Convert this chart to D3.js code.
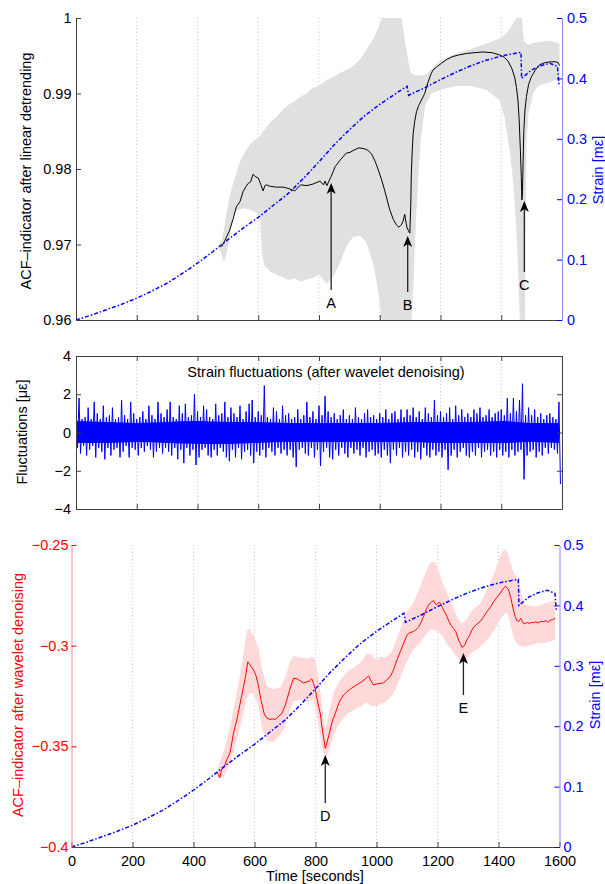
<!DOCTYPE html>
<html>
<head>
<meta charset="utf-8">
<script src="https://cdn.jsdelivr.net/npm/d3@7"></script>
<style>
body { margin: 0; background: #fff; }
text { font-family: "Liberation Sans", Arial, sans-serif; }
</style>
</head>
<body>
<svg id="chart" width="605" height="884"></svg>
<script>
// ---- data ----
var xTicks = [0, 200, 400, 600, 800, 1000, 1200, 1400, 1600];
var acfTicks = [0.96, 0.97, 0.98, 0.99, 1];
var strainTicks = [0, 0.1, 0.2, 0.3, 0.4, 0.5];
var fluctTicks = [-4, -2, 0, 2, 4];
var acf2Ticks = [-0.4, -0.35, -0.3, -0.25];

// strain [me] (blue dash-dot, right axes)
var strainT = [0,50,100,150,200,250,300,350,400,450,500,550,600,650,700,750,800,850,900,950,1000,1050,1090,1095,1120,1150,1200,1250,1300,1350,1400,1440,1465,1467,1500,1530,1560,1585,1590];
var strainV = [0,0.008,0.017,0.026,0.036,0.048,0.061,0.077,0.094,0.113,0.133,0.152,0.170,0.190,0.210,0.235,0.262,0.290,0.315,0.338,0.357,0.374,0.387,0.372,0.378,0.385,0.398,0.410,0.421,0.430,0.437,0.441,0.443,0.400,0.414,0.421,0.425,0.420,0.390];

// ACF after linear detrending (black)
var acfT = [479,490,506,518,528,540,550,560,567,575,583,590,600,608,616,622,627,640,660,682,701,720,740,760,780,803,815,820,826,835,840,853,870,890,902,915,931,948,960,973,985,995,1005,1016,1025,1033,1045,1055,1063,1071,1077,1082,1087,1090,1095,1099,1102,1104,1107,1110,1115,1121,1128,1137,1148,1159,1168,1175,1190,1203,1220,1241,1260,1285,1310,1340,1370,1395,1410,1422,1434,1444,1450,1455,1459,1463,1466,1468,1470,1472,1474,1478,1483,1490,1499,1512,1526,1545,1565,1578,1587,1592];
var acfV = [0.9697,0.9705,0.9719,0.9735,0.9750,0.9757,0.9770,0.9777,0.9781,0.9783,0.9793,0.9790,0.9788,0.9780,0.9771,0.9778,0.9779,0.9777,0.9776,0.9776,0.9774,0.9771,0.9779,0.9778,0.9780,0.9784,0.9779,0.9784,0.9778,0.9786,0.9790,0.9803,0.9812,0.9821,0.9822,0.9825,0.9828,0.9827,0.9825,0.9820,0.9810,0.9799,0.9787,0.9772,0.9758,0.9746,0.9733,0.9726,0.9723,0.9726,0.9731,0.9740,0.9728,0.9722,0.9718,0.9715,0.9750,0.9794,0.9825,0.9847,0.9863,0.9876,0.9884,0.9891,0.9900,0.9915,0.9925,0.9931,0.9936,0.9940,0.9945,0.9949,0.9951,0.9953,0.9954,0.9955,0.9954,0.9951,0.9948,0.9943,0.9934,0.9922,0.9908,0.9891,0.9865,0.9825,0.9790,0.9759,0.9770,0.9810,0.9848,0.9878,0.9896,0.9912,0.9922,0.9931,0.9938,0.9941,0.9942,0.9942,0.9941,0.9937];

// grey confidence band around the black curve
var bandT = [470,479,485,490,497,505,515,525,535,550,565,580,595,605,612,620,640,660,680,700,720,740,760,780,800,825,850,868,890,912,935,956,978,990,1000,1005,1010,1020,1040,1060,1075,1085,1095,1100,1105,1108,1112,1120,1135,1150,1170,1200,1250,1300,1350,1395,1410,1428,1440,1450,1456,1461,1466,1470,1475,1478,1481,1483,1490,1505,1520,1560,1592];
var bandHi = [0.9700,0.9705,0.9715,0.9728,0.9745,0.9762,0.9778,0.9790,0.9805,0.9818,0.9828,0.9836,0.9840,0.9843,0.9848,0.9852,0.9862,0.9869,0.9878,0.9885,0.9890,0.9896,0.9900,0.9908,0.9910,0.9918,0.9923,0.9927,0.9931,0.9936,0.9945,0.9958,0.9972,0.9982,0.9990,0.9998,1.002,1.005,1.006,1.004,0.9990,0.9965,0.9940,0.9930,0.9927,0.9926,0.9925,0.9924,0.9924,0.9925,0.9932,0.9944,0.9953,0.9959,0.9966,0.9973,0.9977,0.9985,0.9993,1.000,1.002,1.003,1.003,0.9985,0.9970,0.9968,0.9967,0.9966,0.9965,0.9967,0.9968,0.9970,0.9966];
var bandLo = [0.9695,0.9688,0.9678,0.9680,0.9690,0.9705,0.9735,0.9744,0.9746,0.9748,0.9747,0.9745,0.9742,0.9738,0.9690,0.9672,0.9664,0.9660,0.9657,0.9653,0.9655,0.9651,0.9654,0.9656,0.9660,0.9648,0.9660,0.9675,0.9697,0.9710,0.9712,0.9703,0.9675,0.9650,0.9625,0.9600,0.958,0.955,0.955,0.955,0.955,0.955,0.955,0.956,0.9600,0.9625,0.9660,0.9740,0.9840,0.9885,0.9900,0.9905,0.9910,0.9910,0.9905,0.9891,0.9870,0.9825,0.9780,0.9717,0.9660,0.9600,0.955,0.955,0.955,0.9600,0.9750,0.9835,0.9875,0.9900,0.9910,0.9915,0.9920];

// strain fluctuations [ue]: upper and lower excursions, every 10 s
var fluctHi = [0.9,1.8,0.7,0.8,1.3,0.7,1.6,1.0,0.7,1.4, 0.8,0.9,1.3,0.7,0.8,1.7,0.9,0.7,1.6,1.0,
  0.7,0.8,1.1,0.7,1.4,0.9,0.7,1.6,1.0,0.8, 1.2,1.6,0.8,0.7,1.4,1.0,1.5,0.8,0.9,2.0,
  1.1,0.8,1.4,1.2,0.8,0.7,1.5,0.9,1.0,1.6, 0.8,1.3,1.0,0.8,1.4,0.7,1.1,1.5,1.7,0.8,
  1.1,0.9,2.45,0.8,0.7,1.3,1.1,0.7,1.4,0.9, 1.0,0.7,0.8,1.2,0.7,0.9,1.6,0.8,1.1,0.7,
  1.4,0.9,1.9,1.1,0.8,1.0,0.7,0.9,1.2,0.7, 0.9,0.7,1.3,0.8,0.7,1.0,1.2,0.8,0.9,0.7,
  1.0,0.8,1.2,0.7,1.0,1.1,0.7,1.2,0.8,1.2, 0.9,1.3,0.8,1.1,0.7,1.3,1.0,0.8,1.7,0.9,
  1.1,0.8,1.0,1.3,0.7,1.4,0.9,1.2,0.8,1.0, 0.8,1.2,1.0,1.3,0.8,0.9,1.2,0.8,1.0,1.1,
  1.2,0.9,1.8,1.0,1.8,1.1,1.7,2.55,0.9,1.3, 0.9,1.2,0.8,1.0,0.7,0.9,1.0,0.8,0.7,1.6];
var fluctLo = [-0.8,-1.1,-0.7,-1.2,-0.9,-0.7,-1.3,-0.8,-1.0,-1.4, -0.8,-1.2,-0.9,-0.8,-1.3,-1.0,-0.7,-1.3,-0.8,-0.9,
  -1.2,-0.8,-1.0,-0.7,-0.9,-1.3,-1.0,-0.8,-1.1,-0.8, -1.0,-1.2,-0.8,-1.4,-0.9,-1.6,-0.8,-1.2,-0.9,-1.7,
  -1.3,-0.9,-0.8,-1.2,-1.3,-0.9,-1.2,-0.8,-1.0,-1.3, -1.5,-0.9,-1.3,-0.8,-1.4,-1.0,-0.9,-1.2,-1.6,-1.0,
  -1.2,-0.9,-1.3,-0.8,-1.0,-1.2,-0.8,-1.1,-0.9,-1.2, -0.9,-1.3,-1.8,-0.9,-0.8,-1.1,-1.2,-0.8,-1.3,-0.9,
  -1.75,-1.0,-0.8,-1.3,-1.4,-0.9,-1.2,-0.8,-1.1,-1.3, -0.8,-1.1,-0.9,-1.2,-0.8,-1.3,-1.0,-0.9,-1.2,-1.1,
  -1.3,-0.9,-1.2,-1.6,-0.9,-1.2,-0.8,-1.3,-1.0,-1.2, -0.9,-1.3,-1.0,-1.4,-0.8,-1.2,-1.3,-0.9,-1.2,-1.0,
  -1.3,-0.9,-1.95,-1.2,-0.9,-1.3,-1.0,-0.8,-1.2,-1.3, -1.0,-1.2,-0.8,-1.3,-1.0,-0.9,-1.2,-1.0,-1.3,-0.9,
  -1.2,-1.0,-1.3,-0.9,-1.2,-1.0,-0.9,-2.45,-1.2,-1.0, -0.9,-1.3,-1.0,-1.2,-0.8,-1.1,-0.8,-0.9,-1.1,-2.7];
var fluctT = d3.range(0, 1600, 10);
// solid core of the fluctuation trace, every 100 s
var coreT = [0,100,200,300,400,500,600,700,800,900,1000,1100,1200,1300,1400,1500,1590];
var coreHi = [0.6,0.55,0.5,0.55,0.6,0.55,0.55,0.5,0.5,0.5,0.5,0.55,0.55,0.55,0.6,0.5,0.5];
var coreLo = [-0.55,-0.55,-0.5,-0.55,-0.6,-0.6,-0.55,-0.5,-0.5,-0.5,-0.5,-0.5,-0.55,-0.55,-0.55,-0.5,-0.55];

// ACF after wavelet denoising (red)
var redT = [478,482,486,493,500,509,520,531,542,553,564,570,578,585,592,597,605,613,620,626,632,641,650,660,668,680,690,700,706,717,728,740,750,760,772,780,788,794,799,805,810,816,821,826,832,838,848,856,865,873,881,892,903,915,925,940,952,963,974,982,990,1001,1012,1023,1034,1045,1056,1067,1078,1089,1100,1110,1121,1130,1138,1146,1154,1163,1170,1176,1182,1187,1192,1198,1204,1209,1216,1224,1231,1238,1245,1252,1260,1269,1275,1280,1285,1290,1296,1305,1313,1320,1328,1340,1350,1362,1373,1384,1395,1406,1414,1418,1422,1428,1433,1440,1444,1450,1455,1460,1466,1470,1473,1478,1483,1488,1495,1502,1508,1515,1522,1530,1538,1548,1556,1563,1570,1578,1586];
var redV = [-0.3630,-0.3640,-0.3655,-0.3612,-0.3605,-0.3568,-0.3530,-0.3435,-0.3369,-0.3286,-0.3204,-0.3160,-0.3080,-0.3095,-0.3110,-0.3121,-0.3150,-0.3200,-0.3262,-0.3300,-0.3340,-0.3360,-0.3366,-0.3364,-0.3366,-0.3350,-0.3336,-0.3300,-0.3270,-0.3210,-0.3162,-0.3165,-0.3175,-0.3185,-0.3180,-0.3175,-0.3165,-0.3190,-0.3215,-0.3265,-0.3300,-0.3340,-0.3402,-0.3450,-0.3510,-0.3480,-0.3419,-0.3370,-0.3336,-0.3300,-0.3270,-0.3245,-0.3229,-0.3215,-0.3204,-0.3190,-0.3179,-0.3165,-0.3150,-0.3175,-0.3195,-0.3190,-0.3187,-0.3185,-0.3170,-0.3154,-0.3120,-0.3071,-0.3030,-0.2988,-0.2947,-0.2935,-0.2930,-0.2920,-0.2908,-0.2885,-0.2856,-0.2820,-0.2800,-0.2789,-0.2780,-0.2777,-0.2790,-0.2797,-0.2785,-0.2789,-0.2810,-0.2835,-0.2856,-0.2880,-0.2900,-0.2914,-0.2930,-0.2972,-0.2990,-0.3008,-0.3005,-0.2995,-0.2972,-0.2950,-0.2922,-0.2905,-0.2895,-0.2880,-0.2860,-0.2831,-0.2810,-0.2781,-0.2760,-0.2739,-0.2720,-0.2712,-0.2706,-0.2712,-0.2723,-0.2760,-0.2789,-0.2830,-0.2856,-0.2875,-0.2880,-0.2870,-0.2864,-0.2880,-0.2892,-0.2889,-0.2885,-0.2890,-0.2884,-0.2886,-0.2882,-0.2888,-0.2880,-0.2880,-0.2876,-0.2884,-0.2873,-0.2870,-0.2864];

// pink band around the red curve
var pinkT = [478,500,520,540,560,575,585,597,613,625,641,660,684,700,717,728,750,775,790,799,810,821,832,845,860,881,903,925,950,968,980,1000,1012,1030,1050,1070,1090,1100,1120,1140,1160,1176,1190,1200,1215,1231,1250,1265,1280,1295,1310,1340,1370,1395,1410,1420,1430,1440,1450,1460,1470,1482,1500,1526,1550,1586];
var pinkHi = [-0.3615,-0.352,-0.340,-0.325,-0.308,-0.2925,-0.2915,-0.2950,-0.3010,-0.3120,-0.3200,-0.3215,-0.3210,-0.3160,-0.3080,-0.3050,-0.3060,-0.3065,-0.3055,-0.3071,-0.3160,-0.3290,-0.3420,-0.3330,-0.3230,-0.3170,-0.3130,-0.3110,-0.3080,-0.3040,-0.3040,-0.3070,-0.3055,-0.3060,-0.3030,-0.2950,-0.2870,-0.2830,-0.2790,-0.2720,-0.2640,-0.2590,-0.2585,-0.2610,-0.2680,-0.2740,-0.2800,-0.2860,-0.2890,-0.2870,-0.2830,-0.2790,-0.2700,-0.2600,-0.2540,-0.2520,-0.2540,-0.2590,-0.2640,-0.2660,-0.2700,-0.2790,-0.2800,-0.2806,-0.2790,-0.2773];
var pinkLo = [-0.3665,-0.365,-0.358,-0.348,-0.336,-0.326,-0.3235,-0.3235,-0.3300,-0.3410,-0.3470,-0.3480,-0.3445,-0.3400,-0.3320,-0.3275,-0.3270,-0.3280,-0.3265,-0.3300,-0.3400,-0.3500,-0.3560,-0.3520,-0.3440,-0.3380,-0.3340,-0.3320,-0.3300,-0.3280,-0.3300,-0.3300,-0.3290,-0.3280,-0.3250,-0.3190,-0.3110,-0.3080,-0.3020,-0.2990,-0.2950,-0.2920,-0.2920,-0.2930,-0.2950,-0.2990,-0.3030,-0.3060,-0.3085,-0.3070,-0.3040,-0.3005,-0.2960,-0.2900,-0.2860,-0.2840,-0.2840,-0.2900,-0.2960,-0.2990,-0.3000,-0.3005,-0.3000,-0.2988,-0.2985,-0.2972];

// annotation arrows: label, time, tip value, tail value
var topArrows = [["A", 840, 0.97815, 0.96397], ["B", 1092, 0.97113, 0.96371], ["C", 1476, 0.97576, 0.96636]];
var botArrows = [["D", 832, -0.35430, -0.37815], ["E", 1285, -0.30364, -0.32450]];

// ---- drawing ----
var svg = d3.select("#chart");
var minus = function (s) { return String(s).replace("-", "\u2212"); };
var zip = function (a, b) { return a.map(function (d, i) { return [d, b[i]]; }); };

var blue = "#0000ff", red = "#ff0000", axisCol = "#404040";
var fs = 14.5;
var gridVals = xTicks.slice(1, -1);
var dashDot = "4,2,1.5,2";

function clipFor(id, x0, x1, y0, y1) {
  svg.append("clipPath").attr("id", id).append("rect")
    .attr("x", x0).attr("y", y0).attr("width", x1 - x0).attr("height", y1 - y0);
  return "url(#" + id + ")";
}

function grid(x, y0, y1) {
  svg.append("g").selectAll("line").data(gridVals).join("line")
    .attr("x1", d => x(d)).attr("x2", d => x(d)).attr("y1", y0).attr("y2", y1)
    .attr("stroke", "#b8b8b8").attr("stroke-width", 0.8).attr("stroke-dasharray", "1,2.5");
}

function styleAxis(g, lineCol, tickCol, textCol) {
  g.select(".domain").attr("stroke", lineCol).attr("stroke-width", 1);
  g.selectAll(".tick line").attr("stroke", tickCol);
  g.selectAll(".tick text").attr("fill", textCol).attr("font-size", fs)
    .attr("font-family", "'Liberation Sans', Arial, sans-serif");
}

function arrow(x, y, a) {
  var xa = x(a[1]), yt = y(a[2]), yb = y(a[3]);
  var g = svg.append("g");
  g.append("line").attr("x1", xa).attr("x2", xa).attr("y1", yt + 6).attr("y2", yb)
    .attr("stroke", "#222").attr("stroke-width", 1.3);
  g.append("path")
    .attr("d", "M" + xa + "," + yt + " L" + (xa - 4.5) + "," + (yt + 11) +
      " L" + xa + "," + (yt + 8) + " L" + (xa + 4.5) + "," + (yt + 11) + " Z")
    .attr("fill", "#000");
  g.append("text").attr("x", xa).attr("y", yb + 13).attr("dy", "0.35em")
    .attr("text-anchor", "middle").attr("font-size", fs).text(a[0]);
}

// ===== panel 1 =====
var x1 = d3.scaleLinear().domain([0, 1600]).range([76, 562]);
var y1 = d3.scaleLinear().domain([0.96, 1]).range([320, 18]);
var y1r = d3.scaleLinear().domain([0, 0.5]).range([320, 18]);
var clip1 = clipFor("c1", 76, 562, 18, 320);

grid(x1, 18, 320);

svg.append("path").datum(d3.range(bandT.length)).attr("clip-path", clip1)
  .attr("fill", "#e0e0e0")
  .attr("d", d3.area().x(i => x1(bandT[i])).y0(i => y1(bandLo[i])).y1(i => y1(bandHi[i])));

svg.append("path").datum(zip(acfT, acfV)).attr("clip-path", clip1)
  .attr("fill", "none").attr("stroke", "#000").attr("stroke-width", 1)
  .attr("d", d3.line().x(d => x1(d[0])).y(d => y1(d[1])));

svg.append("path").datum(zip(strainT, strainV)).attr("clip-path", clip1)
  .attr("fill", "none").attr("stroke", blue).attr("stroke-width", 1.5)
  .attr("stroke-dasharray", dashDot)
  .attr("d", d3.line().x(d => x1(d[0])).y(d => y1r(d[1])));

svg.append("g").attr("transform", "translate(0,320)")
  .call(d3.axisBottom(x1).tickValues(xTicks).tickSizeInner(-5).tickSizeOuter(0).tickFormat(""))
  .call(g => styleAxis(g, axisCol, axisCol, "#000"));
svg.append("g").attr("transform", "translate(76,0)")
  .call(d3.axisLeft(y1).tickValues(acfTicks).tickSizeInner(-5).tickSizeOuter(0).tickPadding(4.5).tickFormat(d => String(d)))
  .call(g => styleAxis(g, axisCol, axisCol, "#000"));
svg.append("g").attr("transform", "translate(562,0)")
  .call(d3.axisRight(y1r).tickValues(strainTicks).tickSizeInner(-5).tickSizeOuter(0).tickPadding(5).tickFormat(d => String(d)))
  .call(g => styleAxis(g, "#8c8cff", blue, blue));

svg.append("text").attr("transform", "translate(31,171) rotate(-90)").attr("text-anchor", "middle")
  .attr("font-size", fs).text("ACF\u2013indicator after linear detrending");
svg.append("text").attr("transform", "translate(603,170) rotate(-90)").attr("text-anchor", "middle")
  .attr("font-size", fs).attr("fill", blue).text("Strain [m\u03b5]");

topArrows.forEach(a => arrow(x1, y1, a));

// ===== panel 2 =====
var x2 = d3.scaleLinear().domain([0, 1600]).range([76, 562]);
var y2 = d3.scaleLinear().domain([-4, 4]).range([509, 356]);
var clip2 = clipFor("c2", 76, 562, 356, 509);

grid(x2, 356, 509);

svg.append("path").datum(d3.range(coreT.length)).attr("clip-path", clip2)
  .attr("fill", blue)
  .attr("d", d3.area().curve(d3.curveMonotoneX)
    .x(i => x2(coreT[i])).y0(i => y2(coreLo[i])).y1(i => y2(coreHi[i])));

var zig = [];
fluctT.forEach(function (t, i) {
  zig.push([t, fluctHi[i]], [t + 5, fluctLo[i]]);
});
svg.append("path").datum(zig).attr("clip-path", clip2)
  .attr("fill", "none").attr("stroke", blue).attr("stroke-width", 1)
  .attr("d", d3.line().x(d => x2(d[0])).y(d => y2(d[1])));

svg.append("g").attr("transform", "translate(0,509)")
  .call(d3.axisBottom(x2).tickValues(xTicks).tickSizeInner(-5).tickSizeOuter(0).tickFormat(""))
  .call(g => styleAxis(g, axisCol, axisCol, "#000"));
svg.append("g").attr("transform", "translate(0,356)")
  .call(d3.axisTop(x2).tickValues(xTicks).tickSizeInner(-5).tickSizeOuter(0).tickFormat(""))
  .call(g => styleAxis(g, axisCol, axisCol, "#000"));
svg.append("g").attr("transform", "translate(76,0)")
  .call(d3.axisLeft(y2).tickValues(fluctTicks).tickSizeInner(-5).tickSizeOuter(0).tickPadding(5).tickFormat(d => minus(d)))
  .call(g => styleAxis(g, axisCol, axisCol, "#000"));
svg.append("g").attr("transform", "translate(562,0)")
  .call(d3.axisRight(y2).tickValues(fluctTicks).tickSizeInner(-5).tickSizeOuter(0).tickFormat(""))
  .call(g => styleAxis(g, axisCol, axisCol, "#000"));

svg.append("text").attr("x", 326).attr("y", 377).attr("text-anchor", "middle")
  .attr("font-size", fs).text("Strain fluctuations (after wavelet denoising)");
svg.append("text").attr("transform", "translate(27,432) rotate(-90)").attr("text-anchor", "middle")
  .attr("font-size", fs).text("Fluctuations [\u03bc\u03b5]");

// ===== panel 3 =====
var x3 = d3.scaleLinear().domain([0, 1600]).range([71.5, 559.5]);
var y3 = d3.scaleLinear().domain([-0.4, -0.25]).range([847, 545]);
var y3r = d3.scaleLinear().domain([0, 0.5]).range([847, 545]);
var clip3 = clipFor("c3", 71.5, 559.5, 545, 847);

grid(x3, 545, 847);

svg.append("path").datum(d3.range(pinkT.length)).attr("clip-path", clip3)
  .attr("fill", "#ffd9d9")
  .attr("d", d3.area().x(i => x3(pinkT[i])).y0(i => y3(pinkLo[i])).y1(i => y3(pinkHi[i])));

svg.append("path").datum(zip(redT, redV)).attr("clip-path", clip3)
  .attr("fill", "none").attr("stroke", red).attr("stroke-width", 1)
  .attr("d", d3.line().x(d => x3(d[0])).y(d => y3(d[1])));

svg.append("path").datum(zip(strainT, strainV)).attr("clip-path", clip3)
  .attr("fill", "none").attr("stroke", blue).attr("stroke-width", 1.5)
  .attr("stroke-dasharray", dashDot)
  .attr("d", d3.line().x(d => x3(d[0])).y(d => y3r(d[1])));

svg.append("g").attr("transform", "translate(0,847)")
  .call(d3.axisBottom(x3).tickValues(xTicks).tickSizeInner(-5).tickSizeOuter(0).tickPadding(9).tickFormat(d => String(d)))
  .call(g => styleAxis(g, axisCol, axisCol, "#000"));
svg.append("g").attr("transform", "translate(71.5,0)")
  .call(d3.axisLeft(y3).tickValues(acf2Ticks).tickSizeInner(-5).tickSizeOuter(0).tickPadding(3).tickFormat(d => minus(d)))
  .call(g => styleAxis(g, "#ff8c8c", red, red));
svg.append("g").attr("transform", "translate(559.5,0)")
  .call(d3.axisRight(y3r).tickValues(strainTicks).tickSizeInner(-5).tickSizeOuter(0).tickPadding(4).tickFormat(d => String(d)))
  .call(g => styleAxis(g, "#8c8cff", blue, blue));

svg.append("text").attr("transform", "translate(23,695) rotate(-90)").attr("text-anchor", "middle")
  .attr("font-size", fs).attr("fill", red).text("ACF\u2013indicator after wavelet denoising");
svg.append("text").attr("transform", "translate(600,695) rotate(-90)").attr("text-anchor", "middle")
  .attr("font-size", fs).attr("fill", blue).text("Strain [m\u03b5]");
svg.append("text").attr("x", 315).attr("y", 881).attr("text-anchor", "middle")
  .attr("font-size", fs).text("Time [seconds]");

botArrows.forEach(a => arrow(x3, y3, a));
</script>
</body>
</html>
